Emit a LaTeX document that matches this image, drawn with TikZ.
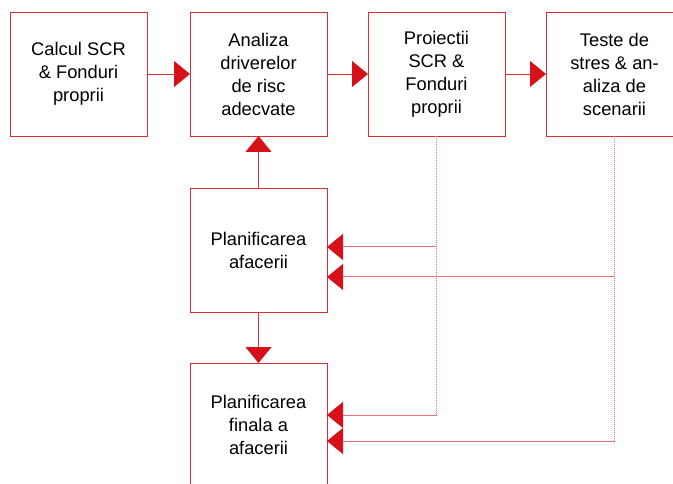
\documentclass[tikz,border=0pt]{standalone}
\usepackage{fontspec}
\setmainfont{Liberation Sans}
\usetikzlibrary{positioning,arrows.meta}
\definecolor{linered}{RGB}{222,45,55}
\definecolor{tipred}{RGB}{215,17,26}
\definecolor{dotred}{RGB}{235,110,120}

\begin{document}
\begin{tikzpicture}[x=1pt,y=-1pt,
  stepbox/.style={draw=linered, line width=0.9pt, minimum width=137pt, minimum height=124pt,
    inner sep=0pt, outer sep=0pt, align=center, font=\fontsize{18.3}{23}\selectfont},
  flow/.style={draw=linered, line width=0.8pt, -{Triangle[length=16pt,width=26pt,color=tipred]}},
  feed/.style={flow, draw=dotred, line width=1pt, dash pattern=on 1.2pt off 0.8pt}]
\useasboundingbox (0,0) rectangle (673,484);

\node[stepbox] (calc) at (78.5,74) {Calcul SCR\\ \& Fonduri\\ proprii};
\node[stepbox, right=43pt of calc] (drv) {Analiza\\ driverelor\\ de risc\\ adecvate};
\node[stepbox, right=41pt of drv] (proj) {Proiectii\\ SCR \&\\ Fonduri\\ proprii};
\node[stepbox, right=41pt of proj] (stres) {Teste de\\ stres \& an-\\ aliza de\\ scenarii};
\node[stepbox, below=52pt of drv] (plan) {Planificarea\\ afacerii};
\node[stepbox, below=51pt of plan] (final) {Planificarea\\ finala a\\ afacerii};

\foreach \a/\b in {calc/drv, drv/proj, proj/stres, plan/drv, plan/final}
	\draw[flow] (\a) -- (\b);

\draw[feed] (proj.south) |- ([yshift=3pt]plan.east);
\draw[feed] (stres.south) |- ([yshift=-27pt]plan.east);
\draw[feed] (proj.south) |- ([yshift=10pt]final.east);
\draw[feed] (stres.south) |- ([yshift=-16pt]final.east);

\end{tikzpicture}
\end{document}
